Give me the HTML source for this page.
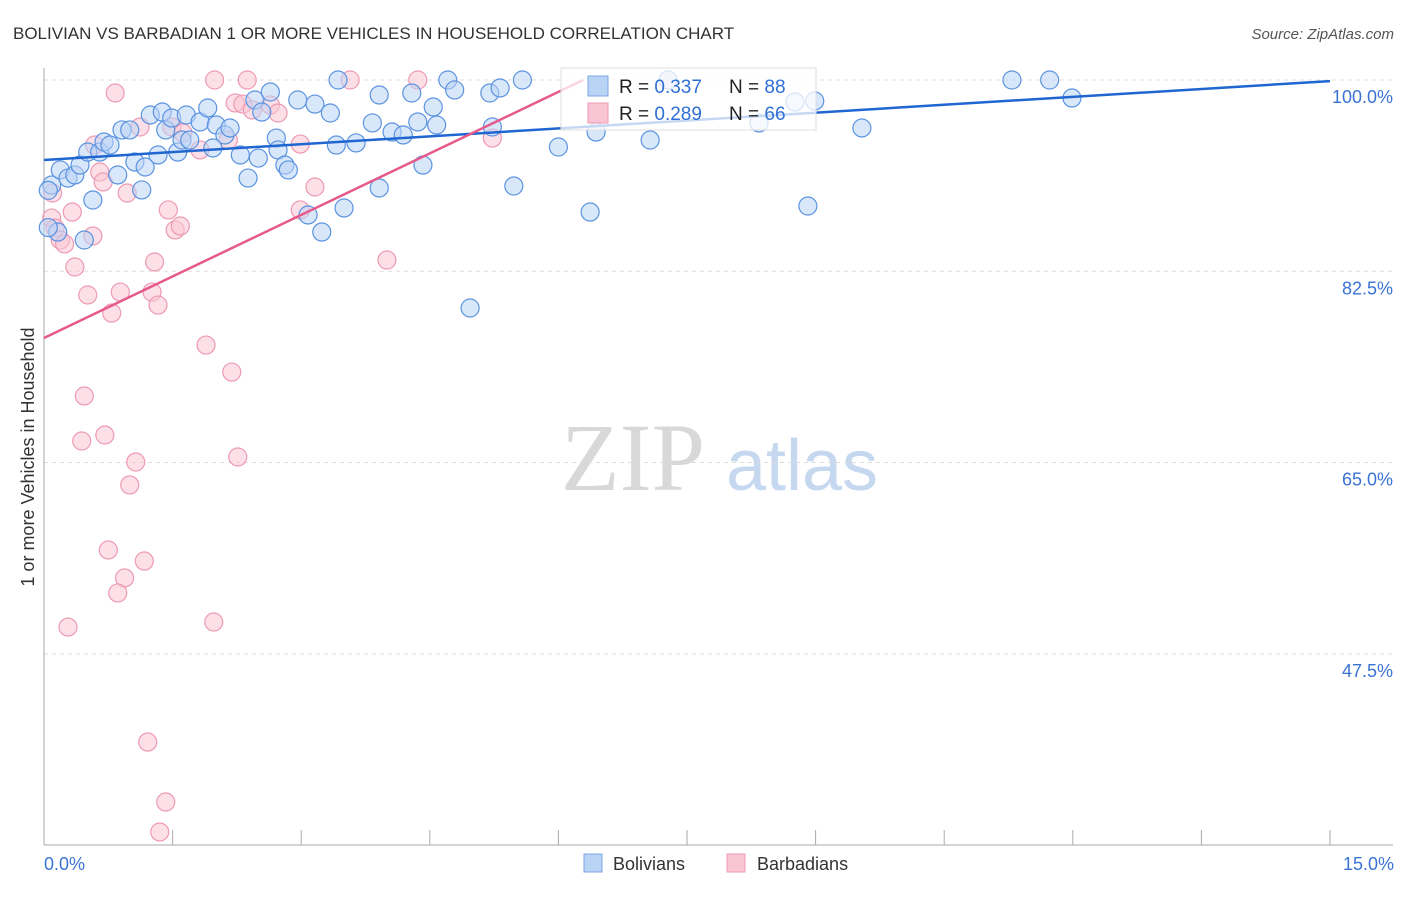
<!DOCTYPE html>
<html><head><meta charset="utf-8"><style>
body{margin:0;background:#fff;width:1406px;height:892px;overflow:hidden;font-family:"Liberation Sans",sans-serif;}
</style></head><body>
<svg id="chart" width="1406" height="892" xmlns="http://www.w3.org/2000/svg" font-family="Liberation Sans, sans-serif">
<text x="13" y="39" font-size="17" fill="#333">BOLIVIAN VS BARBADIAN 1 OR MORE VEHICLES IN HOUSEHOLD CORRELATION CHART</text>
<text x="1394" y="39" font-size="15" fill="#555" text-anchor="end" font-style="italic">Source: ZipAtlas.com</text>
<g>
<text x="633" y="490" font-size="96" fill="#d8d8d8" text-anchor="middle" font-family="Liberation Serif, serif">ZIP</text>
<text x="802" y="490" font-size="72" fill="#c5d8f0" text-anchor="middle">atlas</text>
</g>
<g id="grid"></g>
<g id="axes"></g>
<g id="marks"></g>
<text transform="translate(34,457) rotate(-90)" font-size="18" fill="#333" text-anchor="middle">1 or more Vehicles in Household</text>
<g>
<rect x="561" y="68" width="255" height="62" fill="#fff" fill-opacity="0.75" stroke="#ddd"/>
<rect x="588" y="76" width="20" height="20" fill="#b9d3f5" stroke="#7aa7e6"/>
<rect x="588" y="103" width="20" height="20" fill="#f9c4d4" stroke="#ee9ab4"/>
<text x="619" y="93" font-size="19" fill="#222">R = <tspan fill="#2f6fd6">0.337</tspan></text>
<text x="729" y="93" font-size="19" fill="#222">N = <tspan fill="#2f6fd6">88</tspan></text>
<text x="619" y="120" font-size="19" fill="#222">R = <tspan fill="#2f6fd6">0.289</tspan></text>
<text x="729" y="120" font-size="19" fill="#222">N = <tspan fill="#2f6fd6">66</tspan></text>
</g>
<g>
<rect x="584" y="854" width="18" height="18" fill="#b9d3f5" stroke="#7aa7e6"/>
<text x="613" y="870" font-size="18" fill="#333">Bolivians</text>
<rect x="727" y="854" width="18" height="18" fill="#f9c4d4" stroke="#ee9ab4"/>
<text x="757" y="870" font-size="18" fill="#333">Barbadians</text>
</g>
</svg>
<script>
const blueX=[0.09,0.19,0.28,0.36,0.42,0.51,0.57,0.65,0.70,0.77,0.86,0.91,1.00,1.06,1.14,1.18,1.24,1.33,1.38,1.42,1.49,1.56,1.61,1.66,1.70,1.82,1.91,1.97,2.01,2.11,2.17,2.29,2.38,2.46,2.50,2.54,2.64,2.71,2.73,2.81,2.85,2.96,3.08,3.16,3.24,3.34,3.41,3.43,3.50,3.64,3.83,3.91,3.91,4.06,4.19,4.29,4.36,4.42,4.54,4.58,4.71,4.79,4.97,5.20,5.23,5.32,5.48,5.58,6.00,6.37,6.44,7.07,7.28,8.91,8.99,9.54,11.29,11.73,11.99,0.16,0.47,8.76,8.34,0.05,0.05];
const blueY=[90.39,91.77,91.03,91.31,92.22,93.41,89.02,93.41,94.33,94.05,91.31,95.43,95.43,92.50,89.94,92.04,96.80,93.14,97.07,95.43,96.52,93.41,94.51,96.80,94.51,96.16,97.44,93.78,95.88,94.97,95.61,93.14,91.03,98.17,92.86,97.07,98.90,94.69,93.60,92.22,91.77,98.17,87.65,97.80,86.09,96.98,94.05,100,88.29,94.24,96.07,98.63,90.12,95.24,94.97,98.81,96.16,92.22,97.53,95.88,100,99.09,79.14,98.81,95.70,99.27,90.30,100,93.87,87.92,95.24,94.51,100,88.47,98.08,95.61,100,100,98.35,86.09,85.36,97.99,96.07,89.9,86.5];
const pinkX=[0.83,1.99,2.37,3.57,4.36,7.28,0.10,0.09,0.13,0.19,0.24,0.33,0.36,0.51,0.57,0.59,0.65,0.69,0.79,0.89,0.97,1.12,1.26,1.29,1.33,1.45,1.49,1.53,1.59,1.62,1.82,1.89,1.98,2.15,2.19,2.23,2.26,2.32,2.43,2.64,2.73,2.99,2.99,3.16,4.00,5.23,0.47,0.44,0.71,1.07,1.00,0.75,1.17,0.94,0.86,0.28,1.21,1.42,1.35];
const pinkY=[98.81,100,100,100,100,100,89.66,87.37,86.46,85.36,85.00,87.92,82.89,80.33,85.73,94.05,91.58,90.67,78.68,80.60,89.66,95.70,80.60,83.35,79.41,88.11,95.70,86.28,86.64,95.15,93.60,75.75,50.41,94.51,73.28,97.90,65.51,97.80,97.26,97.71,96.98,94.14,88.11,90.21,83.53,94.69,71.09,66.97,67.52,65.05,62.95,57.00,55.99,54.44,53.07,49.95,39.43,33.94,31.20];
const blueTrend=[92.68,99.9];   // y at x=0 and x=15
const pinkTrend=[76.4,100];     // y at x=0 and x=6.29
const pinkTrendEnd=6.29;
const yTicks=[100,82.5,65,47.5];
const yTickLabels=["100.0%","82.5%","65.0%","47.5%"];
const xTicks=[0,1.5,3,4.5,6,7.5,9,10.5,12,13.5,15];

const NS="http://www.w3.org/2000/svg";
const X0=44,X1=1330,Y100=80,PXPER=10.93;
function sx(v){return X0+(v/15)*(X1-X0);}
function sy(v){return Y100+(100-v)*PXPER;}
function mk(tag,attrs,parent){const e=document.createElementNS(NS,tag);for(const k in attrs)e.setAttribute(k,attrs[k]);parent.appendChild(e);return e;}
const grid=document.getElementById('grid'),axes=document.getElementById('axes'),marks=document.getElementById('marks');
yTicks.forEach((t,i)=>{
  const l=mk('line',{x1:X0,x2:1393,y1:sy(t),y2:sy(t),stroke:'#ddd','stroke-dasharray':'4,4'},grid);
  
  
  const tx=mk('text',{x:1393,y:sy(t)+23,'font-size':18,fill:'#3b73d4','text-anchor':'end'},axes);
  tx.textContent=yTickLabels[i];
  
  
});
const la=mk('line',{x1:X0,x2:X0,y1:68,y2:845,stroke:'#aaa'},axes);


const lb=mk('line',{x1:X0,x2:1393,y1:845,y2:845,stroke:'#aaa'},axes);


xTicks.forEach(t=>{
  const l=mk('line',{x1:sx(t),x2:sx(t),y1:830,y2:845,stroke:'#aaa'},axes);
  
  
});
const xl0=mk('text',{x:44,y:870,'font-size':18,fill:'#3b73d4'},axes);
xl0.textContent="0.0%";


const xl1=mk('text',{x:1394,y:870,'font-size':18,fill:'#3b73d4','text-anchor':'end'},axes);
xl1.textContent="15.0%";



pinkX.forEach((x,i)=>{
  const c=mk('circle',{cx:sx(x),cy:sy(pinkY[i]),r:9,fill:'#f9c4d4','fill-opacity':0.55,stroke:'#ee9ab4','stroke-width':1.2},marks);
  
  
});
blueX.forEach((x,i)=>{
  const c=mk('circle',{cx:sx(x),cy:sy(blueY[i]),r:9,fill:'#b9d3f5','fill-opacity':0.55,stroke:'#5b93e0','stroke-width':1.2},marks);
  
  
});
const bt=mk('line',{x1:sx(0),y1:sy(blueTrend[0]),x2:sx(15),y2:sy(blueTrend[1]),stroke:'#1f66d1','stroke-width':2.5},marks);


const pt=mk('line',{x1:sx(0),y1:sy(pinkTrend[0]),x2:sx(pinkTrendEnd),y2:sy(pinkTrend[1]),stroke:'#e55a8a','stroke-width':2.5},marks);


</script>
</body></html>
